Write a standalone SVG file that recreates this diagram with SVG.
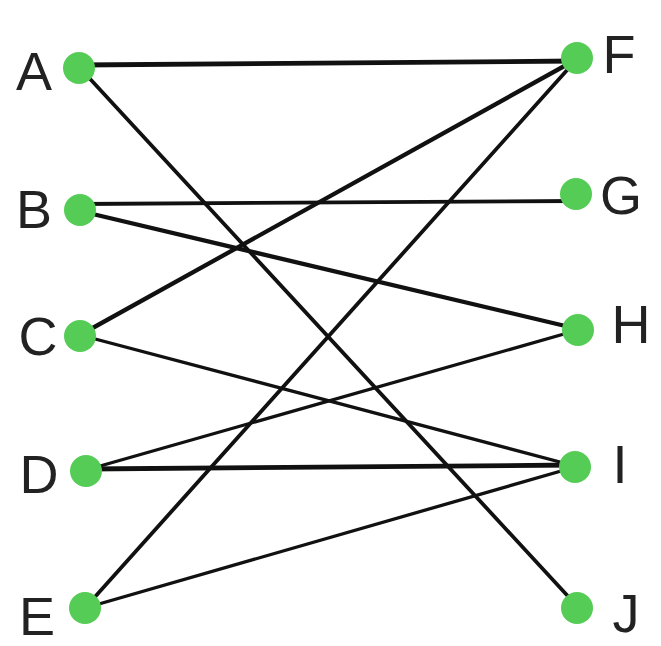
<svg xmlns="http://www.w3.org/2000/svg" width="661" height="646" viewBox="0 0 661 646">
<style>
.e{stroke:#111;stroke-width:3.8;stroke-linecap:round;fill:none}
.n{fill:#55cc55}
.t{font-family:"Liberation Sans",Arial,sans-serif;font-size:54px;fill:#222;text-anchor:middle}
</style>
<rect width="661" height="646" fill="#fff"/>
<g id="edges">
<line class="e" x1="80" y1="65" x2="575" y2="61" style="stroke-width:4.8"/>
<line class="e" x1="80" y1="68" x2="577" y2="606"/>
<line class="e" x1="80" y1="204" x2="576" y2="201"/>
<line class="e" x1="80" y1="211" x2="578" y2="329" style="stroke-width:4.3"/>
<line class="e" x1="80" y1="335" x2="577" y2="59" style="stroke-width:4.3"/>
<line class="e" x1="80" y1="335" x2="575" y2="466" style="stroke-width:3.3"/>
<line class="e" x1="86" y1="470" x2="578" y2="330" style="stroke-width:3.3"/>
<line class="e" x1="86" y1="469" x2="575" y2="465" style="stroke-width:4.8"/>
<line class="e" x1="85" y1="608" x2="577" y2="59"/>
<line class="e" x1="85" y1="608" x2="575" y2="467" style="stroke-width:3.3"/>
</g>
<g id="A"><circle class="n" cx="79" cy="68" r="16"/><text class="t" x="34" y="90">A</text></g>
<g id="B"><circle class="n" cx="80" cy="210" r="16"/><text class="t" x="34" y="228">B</text></g>
<g id="C"><circle class="n" cx="80" cy="336" r="16"/><text class="t" x="38" y="355">C</text></g>
<g id="D"><circle class="n" cx="86" cy="471" r="16"/><text class="t" x="39" y="493">D</text></g>
<g id="E"><circle class="n" cx="85" cy="608" r="16"/><text class="t" x="37" y="635">E</text></g>
<g id="F"><circle class="n" cx="577" cy="58" r="16"/><text class="t" x="619" y="73">F</text></g>
<g id="G"><circle class="n" cx="576" cy="194" r="16"/><text class="t" x="621" y="214">G</text></g>
<g id="H"><circle class="n" cx="578" cy="330" r="16"/><text class="t" x="631" y="343">H</text></g>
<g id="I"><circle class="n" cx="575" cy="467" r="16"/><text class="t" x="620" y="483">I</text></g>
<g id="J"><circle class="n" cx="577" cy="608" r="16"/><text class="t" x="626" y="632">J</text></g>
</svg>
